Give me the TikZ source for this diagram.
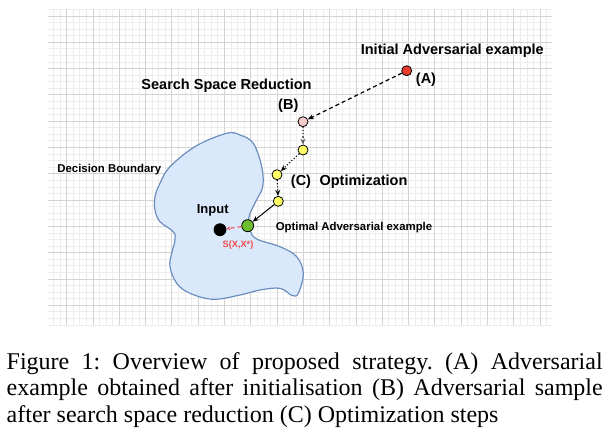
\documentclass[tikz,border=0pt]{standalone}
\usepackage{fontspec}
\setmainfont{Liberation Sans}
\newfontfamily\capfont{Liberation Serif}
\usetikzlibrary{arrows.meta}
\definecolor{gridminor}{HTML}{EDEDED}
\definecolor{gridmajor}{HTML}{D3D3D3}
\definecolor{blobfill}{HTML}{DAE8FC}
\definecolor{blobline}{HTML}{6C8EBF}
\definecolor{redpt}{HTML}{EA3B2E}
\definecolor{pinkpt}{HTML}{F4CCCC}
\definecolor{yellowpt}{HTML}{FFFF66}
\definecolor{greenpt}{HTML}{6DBE2F}
\definecolor{distred}{HTML}{F04B4B}
\tikzset{
  minorline/.style={draw=gridminor, line width=0.9pt},
  majorline/.style={draw=gridmajor, line width=0.9pt},
  pt/.style={circle, draw=black, line width=0.8pt, inner sep=0pt, minimum size=#1},
  lbl/.style={font=\bfseries\fontsize{14.5}{16}\selectfont, inner sep=0pt},
  slbl/.style={font=\bfseries\fontsize{11.4}{13}\selectfont, inner sep=0pt},
  tip/.style={-{Stealth[length=6pt,width=5pt]}},
  caption/.style={font=\capfont\fontsize{24}{26}\selectfont\frenchspacing, inner sep=0pt, anchor=base west},
}
\begin{document}
\begin{tikzpicture}[x=1pt,y=-1pt]
\useasboundingbox (0,0) rectangle (610,432);
\fill[white] (0,0) rectangle (610,432);
% grid
\begin{scope}
\clip (48,9) rectangle (552,325);
\foreach \k in {-4,...,80} \draw[minorline] ({66.7+\k*6.575},9) -- ++(0,316);
\foreach \k in {-2,...,48} \draw[minorline] (48,{16+\k*6.575}) -- ++(504,0);
\foreach \k in {-1,...,19} \draw[majorline] ({66.7+\k*26.3},9) -- ++(0,316);
\foreach \k in {0,...,12} \draw[majorline] (48,{16+\k*26.3}) -- ++(504,0);
\end{scope}
% decision boundary blob
\draw[fill=blobfill, draw=blobline, line width=1.2pt] plot[smooth cycle, tension=0.6] coordinates {
 (170,166.7) (196,146) (226.7,133.3) (240,135) (253.3,143.3) (261.7,166.7) (262.7,186.7)
 (256,201) (249,216.7) (250,230) (256.7,239) (280,246.7) (296.7,256.7) (303.3,273.3)
 (298.3,293.3) (292,295.5) (280,288.3) (260,290) (240,295) (213.3,299.3) (190,293.3)
 (176.7,283.3) (170,266.7) (171.7,253.3) (175,240) (173.3,231.7) (160,221.7) (155,210)
 (155,196.7) (160,183.3)};
% points
\node[pt=10pt, fill=redpt] (A) at (406.7,70.7) {};
\node[pt=10pt, fill=pinkpt] (B) at (303,121.7) {};
\node[pt=10pt, fill=yellowpt] (Y1) at (303,150) {};
\node[pt=10pt, fill=yellowpt] (Y2) at (277,174.7) {};
\node[pt=10pt, fill=yellowpt] (Y3) at (278.3,201.3) {};
\node[pt=12pt, fill=greenpt] (G) at (247.7,225.7) {};
\node[pt=12pt, fill=black] (X) at (220,229.7) {};
% connectors
\draw[tip, line width=1.2pt, dash pattern=on 4pt off 3pt] (A) -- (B);
\draw[tip, line width=1.1pt, dotted, draw=black!60] (B) -- (Y1);
\draw[tip, line width=1.1pt, dotted] (Y1) -- (Y2);
\draw[tip, line width=1.1pt, dotted] (Y2) -- (Y3);
\draw[tip, line width=1pt] (Y3) -- (G);
\draw[-{Stealth[length=4pt,width=3.5pt]}, distred, line width=1.1pt, dash pattern=on 4pt off 3pt] (G) -- (X);
% labels
\node[lbl] (tA) at (452.3,51) {Initial Adversarial example};
\node[lbl] (la) at (426,79.3) {(A)};
\node[lbl] (tB) at (226.5,85.7) {Search Space Reduction};
\node[lbl] (lb) at (288.3,106) {(B)};
\node[lbl] (lc) at (301,182) {(C)};
\node[lbl] (tC) at (363.5,182) {Optimization};
\node[lbl, font=\bfseries\fontsize{13}{15}\selectfont] (tIn) at (212.7,210.7) {Input};
\node[slbl] (tOpt) at (354,228) {Optimal Adversarial example};
\node[slbl] (tDB) at (109.3,169.7) {Decision Boundary};
\node[font=\bfseries\fontsize{9.2}{11}\selectfont, text=distred, inner sep=0pt] (tS) at (238,245) {S(X,X*)};
% caption
\node[caption] (c1) at (6.5,369.3) {\makebox[596pt][s]{Figure 1: Overview of proposed strategy. (A) Adversarial}};
\node[caption] (c2) at (6.5,395.6) {\makebox[596pt][s]{example obtained after initialisation (B) Adversarial sample}};
\node[caption] (c3) at (6.5,422) {after search space reduction (C) Optimization steps};
\end{tikzpicture}
\end{document}
